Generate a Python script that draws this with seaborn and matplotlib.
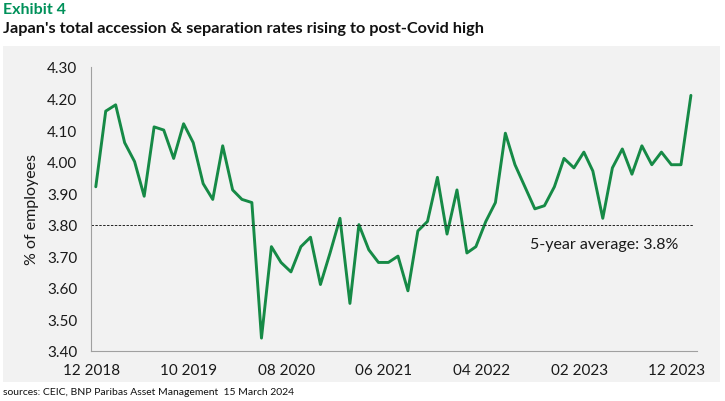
import matplotlib
matplotlib.use("Agg")
import matplotlib.pyplot as plt
from matplotlib.patches import Rectangle
import pandas as pd
import seaborn as sns

# monthly total accession & separation rate, Dec 2018 .. Jan 2024 (% of employees)
rate = [3.92, 4.16, 4.18, 4.06, 4.00, 3.89, 4.11, 4.10, 4.01, 4.12,
        4.06, 3.93, 3.88, 4.05, 3.91, 3.88, 3.87, 3.44, 3.73, 3.68,
        3.65, 3.73, 3.76, 3.61, 3.71, 3.82, 3.55, 3.80, 3.72, 3.68,
        3.68, 3.70, 3.59, 3.78, 3.81, 3.95, 3.77, 3.91, 3.71, 3.73,
        3.81, 3.87, 4.09, 3.99, 3.92, 3.85, 3.86, 3.92, 4.01, 3.98,
        4.03, 3.97, 3.82, 3.98, 4.04, 3.96, 4.05, 3.99, 4.03, 3.99,
        3.99, 4.21]
months = pd.date_range("2018-12-01", periods=len(rate), freq="MS") + pd.Timedelta(days=14)
avg_5y = 3.8

tick_dates = pd.to_datetime(["2018-12-01", "2019-10-01", "2020-08-01", "2021-06-01",
                             "2022-04-01", "2023-02-01", "2023-12-01"])
tick_labels = ["12 2018", "10 2019", "08 2020", "06 2021", "04 2022", "02 2023", "12 2023"]
y_ticks = [3.40, 3.50, 3.60, 3.70, 3.80, 3.90, 4.00, 4.10, 4.20, 4.30]

df = pd.DataFrame({"month": months, "rate": rate})

sns.set_style("white")
plt.rcParams["font.family"] = ["Lato", "DejaVu Sans"]

W, H = 725, 402
fig = plt.figure(figsize=(W / 100, H / 100), dpi=100)
fig.patches.append(Rectangle((3 / W, 1 - 383 / H), 717 / W, 336 / H,
                             transform=fig.transFigure, facecolor="#f2f2f2",
                             edgecolor="none", zorder=-10))
ax = fig.add_axes([91.3 / W, 1 - 351.7 / H, (697 - 91.3) / W, (351.7 - 68) / H])
ax.set_facecolor("none")
ax.set_zorder(5)

sns.lineplot(data=df, x="month", y="rate", ax=ax, color="#168a46", linewidth=2.1)
ax.plot([months[0] - pd.Timedelta(days=14), pd.Timestamp("2024-01-20")], [avg_5y, avg_5y],
        color="#222222", linestyle=(0, (2.5, 1.5)), linewidth=0.7)
ax.text(pd.Timestamp("2023-04-20"), 3.737, "5-year average: 3.8%", ha="center", va="center",
        fontsize=11.5, color="#1a1a1a")

ax.set_xlim(pd.Timestamp("2018-12-01"), pd.Timestamp("2024-02-03"))
ax.set_ylim(3.40, 4.30)
ax.set_yticks(y_ticks)
ax.set_yticklabels([f"{v:.2f}" for v in y_ticks])
ax.set_xticks(tick_dates)
ax.set_xticklabels(tick_labels)
ax.set_xlabel("")
ax.set_ylabel("% of employees", fontsize=11.5, color="#1a1a1a", labelpad=6)

for s in ["top", "right"]:
    ax.spines[s].set_visible(False)
for s in ["left", "bottom"]:
    ax.spines[s].set_color("#a0a0a0")
    ax.spines[s].set_linewidth(0.8)
ax.tick_params(axis="both", which="both", length=4, width=0.8, color="#a0a0a0",
               labelsize=11, labelcolor="#1a1a1a", direction="out")
ax.tick_params(axis="y", pad=6)
ax.tick_params(axis="x", pad=5)

fig.text(3 / W, 1 - 10 / H, "Exhibit 4", color="#00915a", fontsize=11.5,
         fontweight="bold", ha="left", va="center")
fig.text(3 / W, 1 - 29 / H, "Japan's total accession & separation rates rising to post-Covid high",
         color="#111111", fontsize=11.7, fontweight="bold", ha="left", va="center")
fig.text(3 / W, 1 - 393 / H, "sources: CEIC, BNP Paribas Asset Management  15 March 2024",
         color="#111111", fontsize=7.5, ha="left", va="center")

fig.savefig("out.png", dpi=100)
